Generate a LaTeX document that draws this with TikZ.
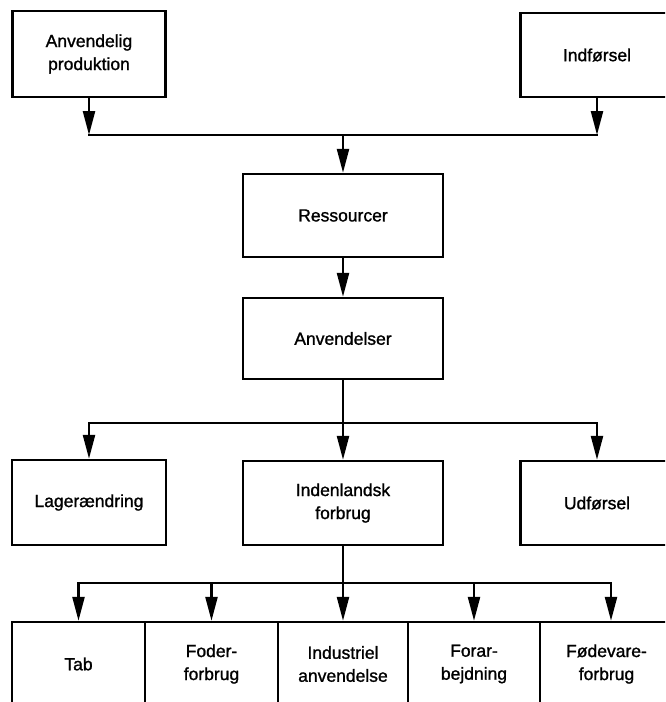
\documentclass[tikz,border=0pt]{standalone}
\usepackage{fontspec}
\setmainfont{Liberation Sans}[AutoFakeBold=1.2]
\usetikzlibrary{arrows.meta}

\begin{document}
\begin{tikzpicture}[x=1pt, y=-1pt,
        box/.style={draw, line width=2.4pt, inner sep=0pt, align=center, minimum height=85pt, font=\fontsize{17.5}{23}\selectfont\bfseries},
        link/.style={line width=2.4pt, line cap=rect},
        arr/.style={line width=2.4pt, -{Triangle[length=24pt, width=12pt]}}]
        \useasboundingbox (0, 0) rectangle (665, 702);
        \clip (0, 0) rectangle (665, 702);
        \node [box, minimum width=153pt, minimum height=86pt] (prod) at (89, 54) {Anvendelig\\produktion};
        \node [box, minimum width=153pt, minimum height=84pt] (indf) at (597, 55) {Indførsel};
        \node [box, minimum width=200pt, minimum height=83pt] (res) at (343, 215.5) {Ressourcer};
        \node [box, minimum width=200pt, minimum height=81pt] (anv) at (343, 338.5) {Anvendelser};
        \node [box, minimum width=154pt] (lager) at (89, 502.5) {Lagerændring};
        \node [box, minimum width=200pt, minimum height=84pt] (inden) at (343, 503) {Indenlandsk\\forbrug};
        \node [box, minimum width=153pt, minimum height=84pt] (udf) at (597, 503) {Udførsel};
        \node [box, minimum width=133pt, minimum height=84pt] (tab) at (78.5, 664) {Tab};
        \node [box, minimum width=133pt, minimum height=84pt] (foder) at (211.5, 664) {Foder-\\forbrug};
        \node [box, minimum width=130pt, minimum height=84pt] (indu) at (343, 664) {Industriel\\anvendelse};
        \node [box, minimum width=132pt, minimum height=84pt] (forar) at (474, 664) {Forar-\\bejdning};
        \node [box, minimum width=133pt, minimum height=84pt] (foede) at (606.5, 664) {Fødevare-\\forbrug};
        \coordinate (top) at (343, 135);
        \coordinate (mid) at (343, 423);
        \coordinate (low) at (343, 583);
        \draw [arr] (prod.south) -- (prod.south |- top);
        \draw [arr] (indf.south) -- (indf.south |- top);
        \draw [link] (prod.south |- top) -- (indf.south |- top);
        \draw [arr] (top) -- (res.north);
        \draw [arr] (res.south) -- (anv.north);
        \draw [link] (anv.south) -- (mid);
        \draw [link] (lager.north |- mid) -- (udf.north |- mid);
        \foreach \n in {lager, inden, udf}
            \draw [arr] (\n.north |- mid) -- (\n.north);
        \draw [link] (inden.south) -- (low);
        \draw [link] (tab.north |- low) -- ([xshift=4.5pt]foede.north |- low);
        \foreach \n in {tab, foder, indu, forar}
            \draw [arr] (\n.north |- low) -- (\n.north);
        \draw [arr] ([xshift=4.5pt]foede.north |- low) -- ([xshift=4.5pt]foede.north);
    \end{tikzpicture}
\end{document}
